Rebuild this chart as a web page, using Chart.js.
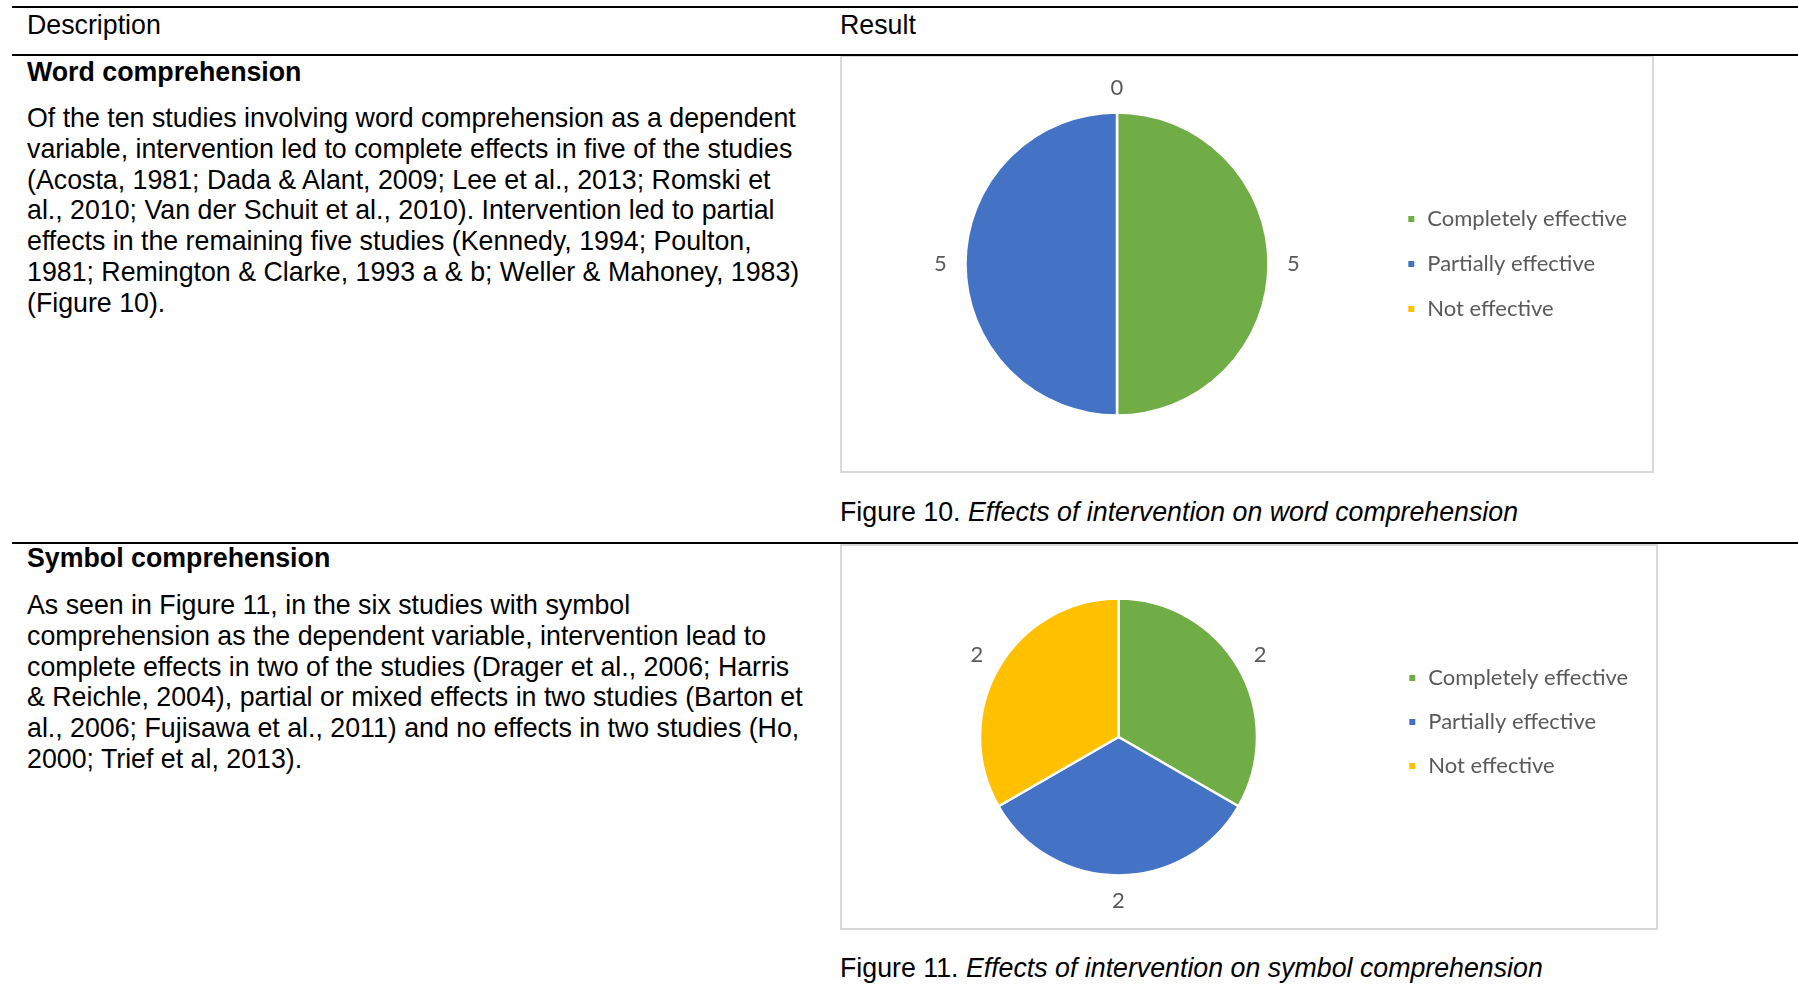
<!DOCTYPE html>
<html>
<head>
<meta charset="utf-8">
<script src="https://cdn.jsdelivr.net/npm/chart.js@4.4.1/dist/chart.umd.min.js"></script>
<style>
  body {
    margin: 0; width: 1798px; height: 992px; background: #fff;
    position: relative; overflow: hidden; color: #000;
    font-family: "Liberation Sans", Arial, sans-serif;
    font-size: 26.75px; line-height: 30.8px;
  }
  .rule { position: absolute; left: 12px; right: 0; height: 2px; background: #000; z-index: 2; }
  .txt { position: absolute; white-space: nowrap; }
  .head { font-weight: bold; }
  .box { position: absolute; left: 840px; border: 2px solid #d9d9d9; }
  .box canvas { display: block; }
</style>
</head>
<body>

<div class="rule" style="top:6px"></div>
<div class="txt" style="left:27px;top:10px">Description</div>
<div class="txt" style="left:840px;top:10px">Result</div>
<div class="rule" style="top:54px"></div>

<div class="txt head" style="left:27px;top:57px">Word comprehension</div>
<div class="txt" style="left:27px;top:103px">Of the ten studies involving word comprehension as a dependent<br>variable, intervention led to complete effects in five of the studies<br>(Acosta, 1981; Dada &amp; Alant, 2009; Lee et al., 2013; Romski et<br>al., 2010; Van der Schuit et al., 2010). Intervention led to partial<br>effects in the remaining five studies (Kennedy, 1994; Poulton,<br>1981; Remington &amp; Clarke, 1993 a &amp; b; Weller &amp; Mahoney, 1983)<br>(Figure 10).</div>

<div class="box" style="top:55px"><canvas id="wordChart" width="810" height="414"></canvas></div>
<div class="txt" style="left:840px;top:497px">Figure 10. <i>Effects of intervention on word comprehension</i></div>

<div class="rule" style="top:542px"></div>

<div class="txt head" style="left:27px;top:543px">Symbol comprehension</div>
<div class="txt" style="left:27px;top:590px">As seen in Figure 11, in the six studies with symbol<br>comprehension as the dependent variable, intervention lead to<br>complete effects in two of the studies (Drager et al., 2006; Harris<br>&amp; Reichle, 2004), partial or mixed effects in two studies (Barton et<br>al., 2006; Fujisawa et al., 2011) and no effects in two studies (Ho,<br>2000; Trief et al, 2013).</div>

<div class="box" style="top:544px"><canvas id="symbolChart" width="814" height="382"></canvas></div>
<div class="txt" style="left:840px;top:953px">Figure 11. <i>Effects of intervention on symbol comprehension</i></div>

<script>
const categories = ['Completely effective', 'Partially effective', 'Not effective'];
const wordCounts = [5, 5, 0];
const symbolCounts = [2, 2, 2];
const sliceColors = ['#70AD47', '#4472C4', '#FFC000'];

const labelFont = { family: 'Lato', size: 22 };
const labelColor = '#595959';

// value of each slice, written just outside the rim at the slice's middle angle
const sliceValues = {
  id: 'sliceValues',
  defaults: { offset: 25 },
  afterDatasetsDraw(chart, args, opts) {
    const ctx = chart.ctx;
    const values = chart.data.datasets[0].data;
    ctx.save();
    ctx.font = `${labelFont.size}px ${labelFont.family}`;
    ctx.fillStyle = labelColor;
    ctx.textAlign = 'center';
    ctx.textBaseline = 'middle';
    chart.getDatasetMeta(0).data.forEach((arc, i) => {
      const p = arc.getProps(['x', 'y', 'startAngle', 'endAngle', 'outerRadius'], true);
      const mid = (p.startAngle + p.endAngle) / 2;
      const r = p.outerRadius + opts.offset;
      ctx.fillText(String(values[i]), p.x + Math.cos(mid) * r, p.y + Math.sin(mid) * r);
    });
    ctx.restore();
  }
};

// lets a chart move its legend up or down without moving the pie
const legendNudge = {
  id: 'legendNudge',
  defaults: { dy: 0 },
  afterLayout(chart, args, opts) {
    if (!opts.dy || !chart.legend) return;
    chart.legend.top += opts.dy;
    chart.legend.bottom += opts.dy;
  }
};

Chart.register(sliceValues, legendNudge);

const baseLabels = Chart.overrides.doughnut.plugins.legend.labels.generateLabels;

function pieChart(id, values, o) {
  const canvas = document.getElementById(id);
  const ctx = canvas.getContext('2d');
  ctx.font = `${labelFont.size}px ${labelFont.family}`;
  const textW = Math.max(...categories.map(c => ctx.measureText(c).width));
  const boxW = 10;
  // legend width as Chart.js works it out, so the legend lands at legendLeft
  const legendW = boxW + labelFont.size / 2 + textW + o.itemGap + 10;
  const padRight = canvas.width - o.legendLeft - legendW;

  return new Chart(canvas, {
    type: 'pie',
    data: {
      labels: categories,
      datasets: [{
        data: values,
        backgroundColor: sliceColors,
        borderColor: '#ffffff',
        borderWidth: 2.5,
        radius: o.radius
      }]
    },
    options: {
      responsive: false,
      animation: false,
      layout: { padding: { left: o.padLeft, right: padRight, top: o.padY, bottom: o.padY } },
      plugins: {
        tooltip: { enabled: false },
        legendNudge: { dy: o.legendDy },
        legend: {
          position: 'right',
          labels: {
            usePointStyle: true,
            pointStyle: 'rect',
            boxWidth: boxW,
            boxHeight: 6,
            padding: o.itemGap,
            color: labelColor,
            font: labelFont,
            generateLabels: chart => baseLabels(chart).map(l => Object.assign(l, { lineWidth: 0 }))
          }
        }
      }
    }
  });
}

pieChart('wordChart', wordCounts, {
  radius: 151.5, padLeft: 8.7, padY: 50, legendLeft: 541.3, itemGap: 23, legendDy: 0
});

pieChart('symbolChart', symbolCounts, {
  radius: 138.5, padLeft: 9.7, padY: 50, legendLeft: 543.3, itemGap: 22, legendDy: -15
});
</script>
</body>
</html>
